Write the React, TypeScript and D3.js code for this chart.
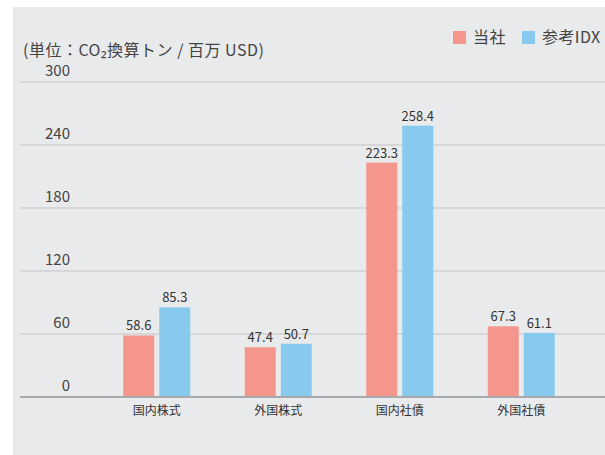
import { useRef, useEffect } from "react";
import * as d3 from "d3";

const categories = ["国内株式", "外国株式", "国内社債", "外国社債"];
const seriesNames = ["当社", "参考IDX"];
const companyValues = [58.6, 47.4, 223.3, 67.3];
const indexValues = [85.3, 50.7, 258.4, 61.1];
const yTicks = [0, 60, 120, 180, 240, 300];
const colors = ["#f5968d", "#88caee"];

const W = 605;
const H = 455;

export default function App() {
  const svgRef = useRef<SVGSVGElement>(null);

  useEffect(() => {
    const svg = d3.select(svgRef.current);
    svg.selectAll("*").remove();

    const font = "'Noto Sans CJK JP', 'Noto Sans', sans-serif";

    svg.append("rect").attr("width", W).attr("height", H).attr("fill", "#fff");
    svg
      .append("rect")
      .attr("x", 13)
      .attr("y", 7)
      .attr("width", W - 13)
      .attr("height", H - 7)
      .attr("fill", "#e9eaec");

    const y = d3.scaleLinear().domain([0, 300]).range([397, 82]);
    const x = d3.scaleBand().domain(categories).range([96, 582]);
    const inner = d3.scaleBand().domain(seriesNames).range([0, 67]).paddingInner(0.14);

    // grid
    svg
      .append("g")
      .selectAll("line")
      .data(yTicks.filter((t) => t !== 0))
      .join("line")
      .attr("x1", 20)
      .attr("x2", W)
      .attr("y1", (d) => y(d))
      .attr("y2", (d) => y(d))
      .attr("stroke", "#c2c3c6")
      .attr("stroke-width", 1);

    svg
      .append("g")
      .selectAll("text")
      .data(yTicks)
      .join("text")
      .attr("x", 70)
      .attr("y", (d) => y(d) - 6)
      .attr("text-anchor", "end")
      .attr("font-family", font)
      .attr("font-size", 15)
      .attr("fill", "#444")
      .text((d) => d);

    const rows = categories.map((c, i) => ({
      cat: c,
      vals: [companyValues[i], indexValues[i]],
    }));

    const group = svg
      .append("g")
      .selectAll("g")
      .data(rows)
      .join("g")
      .attr("transform", (d) => `translate(${x(d.cat)! + x.bandwidth() / 2 - 33.5},0)`);

    group
      .selectAll("rect")
      .data((d) => d.vals.map((v, j) => ({ v, s: seriesNames[j], j })))
      .join("rect")
      .attr("x", (d) => inner(d.s)!)
      .attr("width", inner.bandwidth())
      .attr("y", (d) => y(d.v))
      .attr("height", (d) => y(0) - y(d.v))
      .attr("fill", (d) => colors[d.j]);

    group
      .selectAll("text.val")
      .data((d) => d.vals.map((v, j) => ({ v, s: seriesNames[j] })))
      .join("text")
      .attr("class", "val")
      .attr("x", (d) => inner(d.s)! + inner.bandwidth() / 2)
      .attr("y", (d) => y(d.v) - 5)
      .attr("text-anchor", "middle")
      .attr("font-family", font)
      .attr("font-size", 13)
      .attr("fill", "#333")
      .text((d) => d.v.toFixed(1));

    // baseline
    svg
      .append("line")
      .attr("x1", 20)
      .attr("x2", W)
      .attr("y1", y(0))
      .attr("y2", y(0))
      .attr("stroke", "#a9aaad")
      .attr("stroke-width", 2);

    svg
      .append("g")
      .selectAll("text")
      .data(categories)
      .join("text")
      .attr("x", (d) => x(d)! + x.bandwidth() / 2)
      .attr("y", 415)
      .attr("text-anchor", "middle")
      .attr("font-family", font)
      .attr("font-size", 12)
      .attr("fill", "#333")
      .text((d) => d);

    // unit label
    svg
      .append("text")
      .attr("x", 23)
      .attr("y", 56)
      .attr("font-family", font)
      .attr("font-size", 16)
      .attr("letter-spacing", 0.5)
      .attr("fill", "#444")
      .text("(単位：CO₂換算トン / 百万 USD)");

    // legend
    const legendX = [453, 522];
    const lg = svg
      .append("g")
      .selectAll("g")
      .data(seriesNames)
      .join("g")
      .attr("transform", (d, i) => `translate(${legendX[i]},31)`);
    lg.append("rect")
      .attr("width", 13)
      .attr("height", 13)
      .attr("fill", (d, i) => colors[i]);
    lg.append("text")
      .attr("x", 20)
      .attr("y", 12)
      .attr("font-family", font)
      .attr("font-size", 16)
      .attr("letter-spacing", 0.4)
      .attr("fill", "#444")
      .text((d) => d);
  }, []);

  return (
    <svg
      ref={svgRef}
      width={W}
      height={H}
      style={{ position: "absolute", left: 0, top: 0, display: "block" }}
    ></svg>
  );
}
